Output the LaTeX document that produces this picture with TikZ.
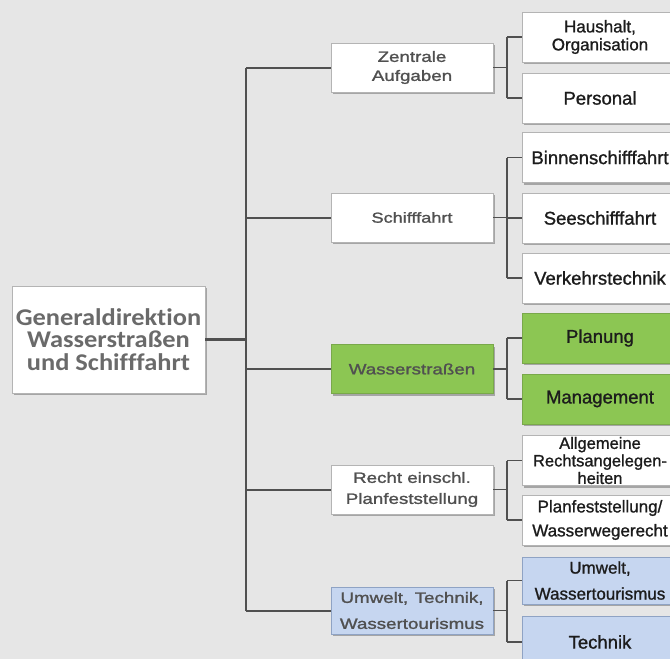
\documentclass[tikz,border=0pt]{standalone}
\usepackage{fontspec}
\usetikzlibrary{shadows}
\setmainfont{Liberation Sans}
\newfontfamily\rootfont[FakeStretch=1.1,Ligatures={NoCommon,NoDiscretionary}]{Carlito Bold}
\newfontfamily\lonefont[FakeStretch=1.25,FakeBold=1.4]{Liberation Sans}
\newfontfamily\ltwofont[FakeBold=1.1]{Liberation Sans}
\definecolor{bg}{HTML}{E6E6E6}
\definecolor{linec}{HTML}{505050}
\definecolor{boxline}{HTML}{B4B4B4}
\definecolor{greenf}{HTML}{8CC653}
\definecolor{greenl}{HTML}{79A84A}
\definecolor{bluef}{HTML}{C6D6F0}
\definecolor{bluel}{HTML}{8FA3C4}
\definecolor{rootc}{HTML}{6A6A6A}
\definecolor{lonec}{HTML}{505050}
\definecolor{ltwoc}{HTML}{1C1C1C}
\tikzset{
  boxbase/.style={draw=boxline, line width=0.8pt, fill=white, inner sep=0pt,
    align=center, drop shadow={shadow xshift=1.5pt, shadow yshift=-2pt, fill=black!60, opacity=0.5}},
  rootbox/.style={boxbase, minimum width=193pt, minimum height=107pt,
    font=\rootfont\fontsize{24}{22.5}\selectfont, text=rootc},
  lonebox/.style={boxbase, minimum width=162pt, minimum height=49pt,
    font=\lonefont\fontsize{15}{19}\selectfont, text=lonec},
  ltwobox/.style={boxbase, minimum width=156pt, minimum height=50pt,
    font=\ltwofont\fontsize{18.5}{19}\selectfont, text=ltwoc},
  greenbox/.style={fill=greenf, draw=greenl},
  bluebox/.style={fill=bluef, draw=bluel},
  conn/.style={draw=linec, line width=2pt},
  thin/.style={draw=linec, line width=1.6pt}
}
\begin{document}
\begin{tikzpicture}[x=1pt,y=-1pt]
\fill[bg] (0,0) rectangle (670,659);
\useasboundingbox (0,0) rectangle (670,659);
\clip (0,0) rectangle (670,659);

% coordinates of the vertical lines
\coordinate (tk) at (246,0);
\coordinate (bk) at (507,0);

% root
\node[rootbox] (root) at (108.5,339.5) {Generaldirektion\\Wasserstraßen\\und Schifffahrt};

% level 1
\node[lonebox] (za) at (412,67.5) {Zentrale\\Aufgaben};
\node[lonebox, font=\lonefont\fontsize{14.5}{16}\selectfont] (sf) at (412,217.5) {Schifffahrt};
\node[lonebox, greenbox] (ws) at (412,369) {Wasserstraßen};
\node[lonebox, font=\lonefont\fontsize{15}{21}\selectfont] (re) at (412,489.5) {Recht einschl.\\Planfeststellung};
\node[lonebox, bluebox, minimum height=47pt, font=\lonefont\fontsize{15}{26}\selectfont] (uw) at (412,610.5)
  {\makebox[143pt][s]{Umwelt,\hfill Technik,}\\Wassertourismus};

% level 2
\node[ltwobox, font=\ltwofont\fontsize{17}{18}\selectfont] (haus) at (600,37) {Haushalt,\\Organisation};
\node[ltwobox] (pers) at (600,98) {Personal};
\node[ltwobox] (binn) at (600,157.5) {Binnenschifffahrt};
\node[ltwobox] (see) at (600,218) {Seeschifffahrt};
\node[ltwobox] (verk) at (600,278) {Verkehrstechnik};
\node[ltwobox, greenbox] (plan) at (600,338) {Planung};
\node[ltwobox, greenbox] (mgmt) at (600,399) {Management};
\node[ltwobox, font=\ltwofont\fontsize{16.5}{17.5}\selectfont] (allg) at (600,460.5) {Allgemeine\\Rechtsangelegen-\\heiten};
\node[ltwobox, font=\ltwofont\fontsize{17}{24}\selectfont] (pfst) at (600,520) {Planfeststellung/\\Wasserwegerecht};
\node[ltwobox, bluebox, minimum height=47pt, font=\ltwofont\fontsize{17}{26}\selectfont] (uwt) at (600,580.5) {Umwelt,\\Wassertourismus};
\node[ltwobox, bluebox, minimum height=52pt] (tech) at (600,642) {Technik};

% main connectors
\draw[conn, line width=2.6pt] (root.east) -- (root.east -| tk);
\draw[conn] (za.west -| tk) -- (uw.west -| tk);
\foreach \n in {za,sf,ws,re,uw} {
  \draw[conn] (\n.west -| tk) -- (\n.west);
}

% brackets
\foreach \p/\first/\last in {za/haus/pers, sf/binn/verk, ws/plan/mgmt, re/allg/pfst, uw/uwt/tech} {
  \draw[thin] (\p.east) -- (\p.east -| bk);
  \draw[thin] (\first.west -| bk) -- (\last.west -| bk);
}
\foreach \c in {haus,pers,binn,see,verk,plan,mgmt,allg,pfst,uwt,tech} {
  \draw[thin] (\c.west -| bk) -- (\c.west);
}
\end{tikzpicture}
\end{document}
